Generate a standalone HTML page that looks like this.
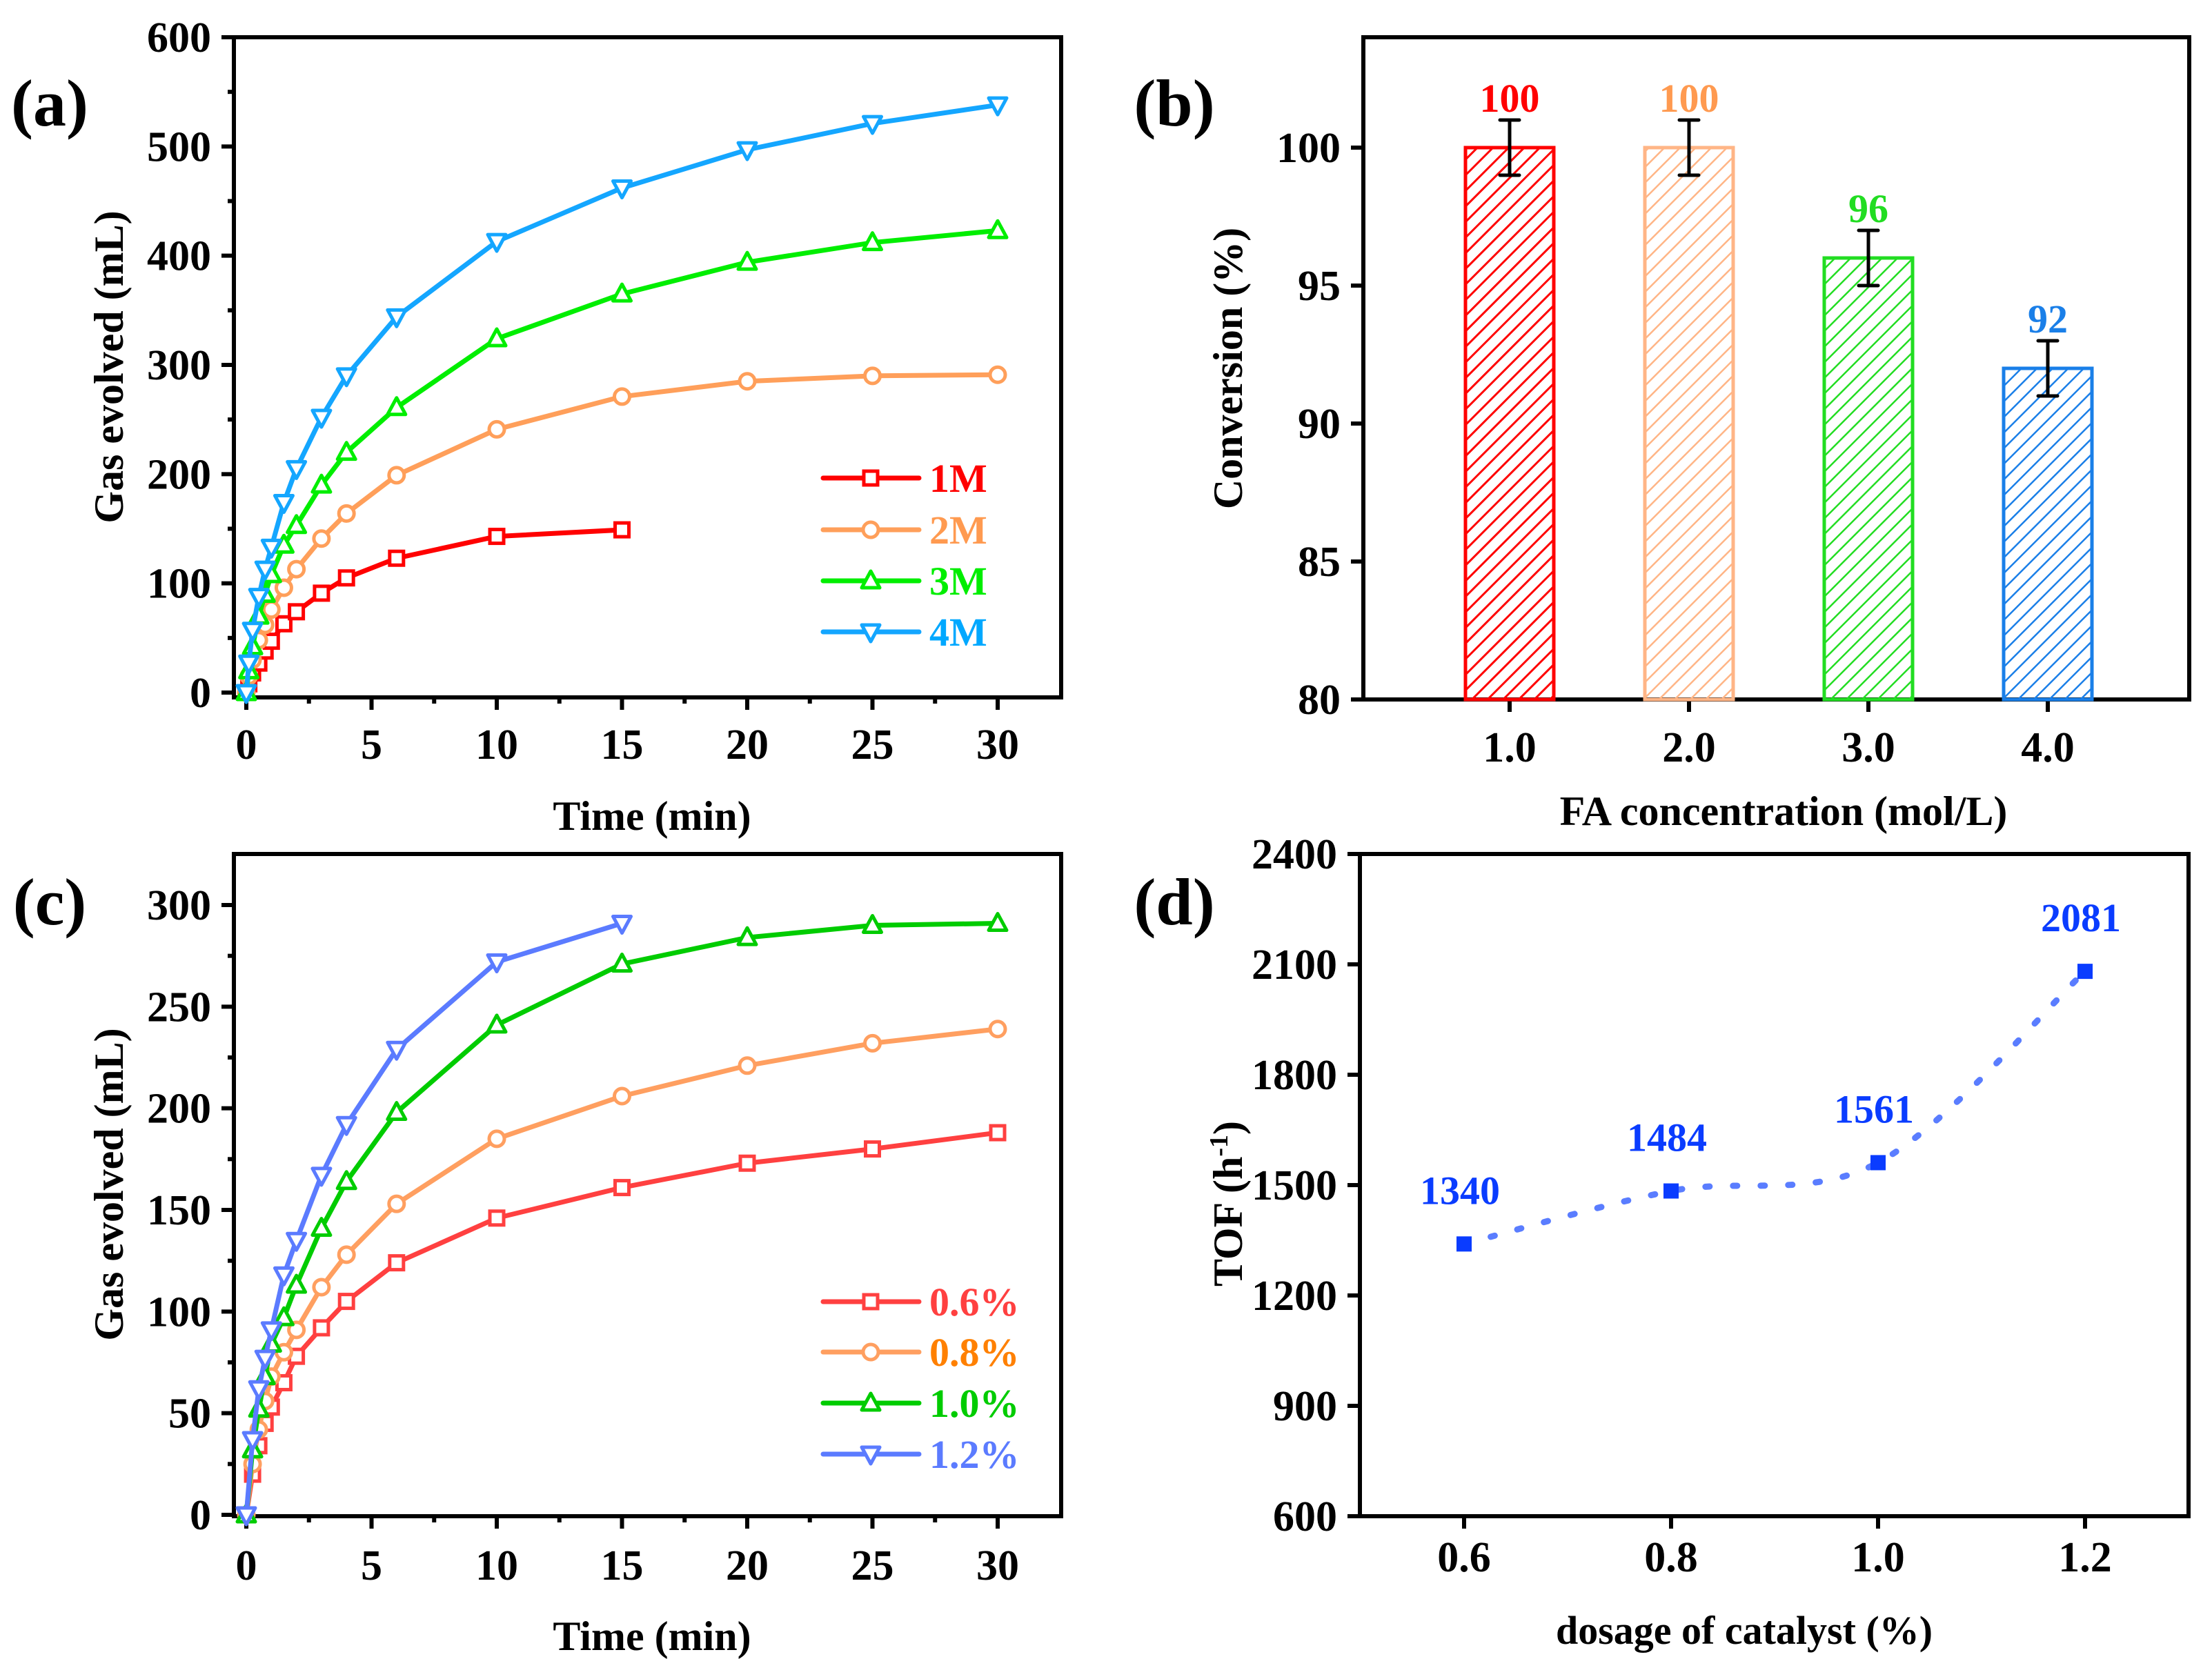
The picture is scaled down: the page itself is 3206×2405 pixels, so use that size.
<!DOCTYPE html>
<html><head><meta charset="utf-8">
<style>
html,body{margin:0;padding:0;background:#fff;}
svg{display:block;}
text{font-family:"Liberation Serif",serif;font-weight:bold;}
</style></head>
<body>
<svg id="fig" xmlns="http://www.w3.org/2000/svg" width="3206" height="2405" viewBox="0 0 3206 2405">
<defs>
<pattern id="hatch-red" patternUnits="userSpaceOnUse" width="16" height="16" patternTransform="rotate(45)"><line x1="0" y1="0" x2="0" y2="16" stroke="#ff0000" stroke-width="6"/></pattern>
<pattern id="hatch-orange" patternUnits="userSpaceOnUse" width="16" height="16" patternTransform="rotate(45)"><line x1="0" y1="0" x2="0" y2="16" stroke="#ffb586" stroke-width="5"/></pattern>
<pattern id="hatch-green" patternUnits="userSpaceOnUse" width="16" height="16" patternTransform="rotate(45)"><line x1="0" y1="0" x2="0" y2="16" stroke="#22dd22" stroke-width="5"/></pattern>
<pattern id="hatch-blue" patternUnits="userSpaceOnUse" width="16" height="16" patternTransform="rotate(45)"><line x1="0" y1="0" x2="0" y2="16" stroke="#1a7fe8" stroke-width="5"/></pattern>
</defs>
</svg>
<script>
// ---------- Panel (a) data ----------
const aTimes = [0,0.1,0.25,0.5,0.75,1,1.5,2,3,4,6,10,15,20,25,30];
const aNames = ["1M","2M","3M","4M"];
const a1M = [0,8,18,27,38,47,63,74,91,105,123,143,149];
const a2M = [0,15,30,48,62,76,96,113,141,164,199,241,271,285,290,291];
const a3M = [0,20,42,70,90,108,135,153,190,220,261,324,365,394,412,423];
const a4M = [0,27,57,88,113,133,174,205,252,290,344,413,462,497,521,538];
const aYTicks = [0,100,200,300,400,500,600];
const aXTicks = [0,5,10,15,20,25,30];
// ---------- Panel (b) data ----------
const bCats = [1.0,2.0,3.0,4.0];
const bCatLabels = ["1.0","2.0","3.0","4.0"];
const bValues = [100,100,96,92];
const bErrors = [1,1,1,1];
const bYTicks = [80,85,90,95,100];
// ---------- Panel (c) data ----------
const cTimes = [0,0.25,0.5,0.75,1,1.5,2,3,4,6,10,15,20,25,30];
const cNames = ["0.6%","0.8%","1.0%","1.2%"];
const c06 = [0,20,34,45,53,65,78,92,105,124,146,161,173,180,188];
const c08 = [0,25,42,56,68,80,91,112,128,153,185,206,221,232,239];
const c10 = [0,32,52,68,84,97,113,141,164,198,241,271,284,290,291];
const c12 = [0,37,62,77,91,118,135,167,192,229,272,291];
const cYTicks = [0,50,100,150,200,250,300];
const cXTicks = [0,5,10,15,20,25,30];
// ---------- Panel (d) data ----------
const dDosage = [0.6,0.8,1.0,1.2];
const dTOF = [1340,1484,1561,2081];
const dYTicks = [600,900,1200,1500,1800,2100,2400];
const dXTicks = [0.6,0.8,1.0,1.2];

const NS="http://www.w3.org/2000/svg";
const svg=document.getElementById('fig');
function el(tag,attrs,parent){const e=document.createElementNS(NS,tag);for(const k in attrs)e.setAttribute(k,attrs[k]);(parent||svg).appendChild(e);return e;}
function lin(d0,d1,r0,r1){return v=>r0+(v-d0)*(r1-r0)/(d1-d0);}
function txt(s,x,y,size,anchor,fill,parent){const t=el('text',{x:x,y:y,'font-size':size,'text-anchor':anchor||'middle',fill:fill||'#000'},parent);t.textContent=s;return t;}

function frame(x0,x1,y0,y1,name){
  const f=el('rect',{x:x0,y:y0,width:x1-x0,height:y1-y0,fill:'none',stroke:'#000','stroke-width':6});
  
  
}
function yAxis(ticks,fy,x0,minorStep,name,fmt){
  const g=el('g',{});
  
  
  ticks.forEach(v=>{
    el('line',{x1:x0-18,x2:x0,y1:fy(v),y2:fy(v),stroke:'#000','stroke-width':6},g);
    const t=txt(fmt?fmt(v):String(v),x0-33,fy(v)+21,62,'end','#000',g);
    
    
    if(minorStep){const m=v+minorStep; if(m<ticks[ticks.length-1]) el('line',{x1:x0-9,x2:x0,y1:fy(m),y2:fy(m),stroke:'#000','stroke-width':6},g);}
  });
}
function xAxis(ticks,fx,y0,minorStep,name,labelY,fmt){
  const g=el('g',{});
  
  
  ticks.forEach(v=>{
    el('line',{x1:fx(v),x2:fx(v),y1:y0,y2:y0+18,stroke:'#000','stroke-width':6},g);
    const t=txt(fmt?fmt(v):String(v),fx(v),labelY,62,'middle','#000',g);
    
    
    if(minorStep){const m=v+minorStep; if(m<ticks[ticks.length-1]) el('line',{x1:fx(m),x2:fx(m),y1:y0,y2:y0+9,stroke:'#000','stroke-width':6},g);}
  });
}
function marker(type,x,y,color,parent){
  let m;
  if(type==='square') m=el('rect',{x:x-10,y:y-10,width:20,height:20,fill:'#fff',stroke:color,'stroke-width':5},parent);
  else if(type==='circle') m=el('circle',{cx:x,cy:y,r:11,fill:'#fff',stroke:color,'stroke-width':5},parent);
  else if(type==='up') m=el('polygon',{points:`${x},${y-14} ${x+13},${y+10} ${x-13},${y+10}`,fill:'#fff',stroke:color,'stroke-width':5,'stroke-linejoin':'round'},parent);
  else m=el('polygon',{points:`${x-13},${y-10} ${x+13},${y-10} ${x},${y+14}`,fill:'#fff',stroke:color,'stroke-width':5,'stroke-linejoin':'round'},parent);
  return m;
}
function series(times,vals,fx,fy,color,mtype,name){
  const g=el('g',{});
  
  
  const pts=vals.map((v,i)=>fx(times[i])+','+fy(v)).join(' ');
  el('polyline',{points:pts,fill:'none',stroke:color,'stroke-width':7,'stroke-linejoin':'round'},g);
  vals.forEach((v,i)=>{const m=marker(mtype,fx(times[i]),fy(v),color,g);
    
    });
}
function legend(rows,names,colors,textColors,types,x0,name){
  const g=el('g',{});
  
  
  names.forEach((n,i)=>{
    const y=rows[i];
    const e=el('g',{},g);
    
    
    el('line',{x1:x0,x2:x0+139,y1:y,y2:y,stroke:colors[i],'stroke-width':7,'stroke-linecap':'round'},e);
    marker(types[i],x0+69,y,colors[i],e);
    txt(n,x0+154,y+20,58,'start',textColors[i],e);
  });
}
function ytitle(parts,x,y,name){
  const t=el('text',{x:0,y:0,'font-size':60,'text-anchor':'middle',transform:`translate(${x},${y}) rotate(-90)`});
  
  
  parts.forEach(p=>{const s=el('tspan',p.sup?{'font-size':38,'baseline-shift':'super'}:{},t);s.textContent=p.s;});
}
function plainLabel(s,x,y,size,name){const t=txt(s,x,y,size,'middle','#000');}

// ===== Panel (a) =====
{
  const fx=lin(0,30,357,1446), fy=lin(0,600,1004,54);
  frame(339,1538,54,1011,'panel-a');
  yAxis(aYTicks,fy,339,50,'panel-a');
  xAxis(aXTicks,fx,1011,2.5,'panel-a',1100);
  const colors=['#ff0000','#ff9f5a','#00ee00','#14a6ff'];
  const types=['square','circle','up','down'];
  const data=[a1M,a2M,a3M,a4M];
  data.forEach((d,i)=>series(aTimes,d,fx,fy,colors[i],types[i],'a-'+aNames[i]));
  legend([693,768,842,916],aNames,colors,['#ff0000','#ff9a50','#00ee00','#00a8ff'],types,1193,'panel-a');
  ytitle([{s:'Gas evolved (mL)'}],178,532,'panel-a-y-axis-title');
  plainLabel('Time (min)',945,1203,60,'panel-a-x-axis-title');
  plainLabel('(a)',72,182,96,'panel-a-label');
}
// ===== Panel (b) =====
{
  const fx=lin(1,4,2188,2968), fy=lin(80,100,1014,214);
  frame(1976,3173,54,1014,'panel-b');
  yAxis(bYTicks,fy,1976,0,'panel-b');
  xAxis(bCats,fx,1014,0,'panel-b',1104,v=>bCatLabels[bCats.indexOf(v)]);
  const fills=['url(#hatch-red)','url(#hatch-orange)','url(#hatch-green)','url(#hatch-blue)'];
  const strokes=['#ff0000','#ffb586','#22dd22','#1a7fe8'];
  const lblColors=['#ff0000','#ff9a50','#22dd22','#1a7fe8'];
  const names=['bar-1-0','bar-2-0','bar-3-0','bar-4-0'];
  bValues.forEach((v,i)=>{
    const cx=fx(bCats[i]), w=128;
    const r=el('rect',{x:cx-w/2,y:fy(v),width:w,height:fy(80)-fy(v),fill:fills[i],stroke:strokes[i],'stroke-width':5});
    
    
    const e=el('g',{});
    
    
    const hi=fy(v+bErrors[i]), lo=fy(v-bErrors[i]);
    el('line',{x1:cx,x2:cx,y1:hi,y2:lo,stroke:'#000','stroke-width':5},e);
    el('line',{x1:cx-14,x2:cx+14,y1:hi,y2:hi,stroke:'#000','stroke-width':5,'stroke-linecap':'round'},e);
    el('line',{x1:cx-14,x2:cx+14,y1:lo,y2:lo,stroke:'#000','stroke-width':5,'stroke-linecap':'round'},e);
    const t=txt(String(v),cx,fy(v)-52,58,'middle',lblColors[i]);
    
    
  });
  ytitle([{s:'Conversion (%)'}],1800,534,'panel-b-y-axis-title');
  plainLabel('FA concentration (mol/L)',2585,1196,60,'panel-b-x-axis-title');
  plainLabel('(b)',1702,182,96,'panel-b-label');
}
// ===== Panel (c) =====
{
  const fx=lin(0,30,357,1446), fy=lin(0,300,2196,1312);
  frame(339,1538,1238,2198,'panel-c');
  yAxis(cYTicks,fy,339,25,'panel-c');
  xAxis(cXTicks,fx,2198,2.5,'panel-c',2290);
  const colors=['#ff4040','#ff9f60','#00cc00','#5b7bff'];
  const types=['square','circle','up','down'];
  const data=[c06,c08,c10,c12];
  data.forEach((d,i)=>series(cTimes,d,fx,fy,colors[i],types[i],'c-'+cNames[i]));
  legend([1887,1960,2034,2108],cNames,colors,['#ff4040','#ff8000','#00cc00','#5b7bff'],types,1193,'panel-c');
  ytitle([{s:'Gas evolved (mL)'}],178,1717,'panel-c-y-axis-title');
  plainLabel('Time (min)',945,2392,60,'panel-c-x-axis-title');
  plainLabel('(c)',72,1340,96,'panel-c-label');
}
// ===== Panel (d) =====
{
  const fx=lin(0.6,1.2,2122,3022), fy=lin(600,2400,2198,1238);
  frame(1971,3172,1238,2198,'panel-d');
  yAxis(dYTicks,fy,1971,0,'panel-d');
  xAxis(dXTicks,fx,2198,0,'panel-d',2278,v=>v.toFixed(1));
  // smooth dotted curve (Catmull-Rom through data points)
  const P=dDosage.map((x,i)=>[fx(x),fy(dTOF[i])]);
  let dstr=`M${P[0][0]},${P[0][1]}`;
  for(let i=0;i<P.length-1;i++){
    const p0=P[i-1]||P[i], p1=P[i], p2=P[i+1], p3=P[i+2]||P[i+1];
    const c1=[p1[0]+(p2[0]-p0[0])/6, p1[1]+(p2[1]-p0[1])/6];
    const c2=[p2[0]-(p3[0]-p1[0])/6, p2[1]-(p3[1]-p1[1])/6];
    dstr+=` C${c1[0]},${c1[1]} ${c2[0]},${c2[1]} ${p2[0]},${p2[1]}`;
  }
  const c=el('path',{d:dstr,fill:'none',stroke:'#5a7dff','stroke-width':9,'stroke-linecap':'round','stroke-dasharray':'6 34'});
  
  
  dDosage.forEach((x,i)=>{
    const px=fx(x), py=fy(dTOF[i]);
    const m=el('rect',{x:px-11,y:py-11,width:22,height:22,fill:'#0a3cff'});
    
    
    const t=txt(String(dTOF[i]),px-6,py-58,58,'middle','#0a3cff');
    
    
  });
  ytitle([{s:'TOF (h'},{s:'-1',sup:true},{s:')'}],1800,1745,'panel-d-y-axis-title');
  plainLabel('dosage of catalyst (%)',2528,2383,58,'panel-d-x-axis-title');
  plainLabel('(d)',1702,1340,96,'panel-d-label');
}
</script>
</body></html>
